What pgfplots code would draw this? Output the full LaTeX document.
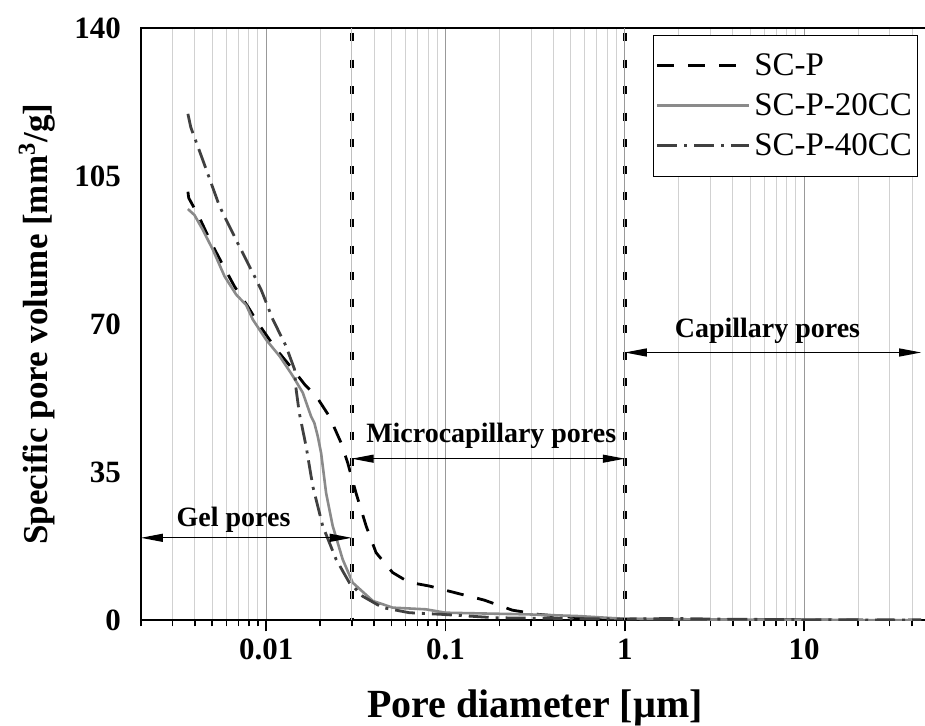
\documentclass[border=0pt]{standalone}
\usepackage{fontspec}
\setmainfont{Liberation Serif}
\usepackage{pgfplots}
\pgfplotsset{compat=1.18}
\usetikzlibrary{arrows.meta}
\definecolor{gsolid}{HTML}{8A8A8A}
\definecolor{gdd}{HTML}{404040}
\begin{document}
\begin{tikzpicture}
\begin{axis}[
  scale only axis, width=394.7pt, height=296.5pt,
  xmode=log, xmin=0.002, xmax=50, ymin=0, ymax=140,
  xtick={0.01,0.1,1,10}, xticklabels={0.01,0.1,1,10},
  minor xtick={0.002,0.003,0.004,0.005,0.006,0.007,0.008,0.009,
               0.02,0.03,0.04,0.05,0.06,0.07,0.08,0.09,
               0.2,0.3,0.4,0.5,0.6,0.7,0.8,0.9,
               2,3,4,5,6,7,8,9,20,30,40,50},
  ytick={0,35,70,105,140},
  xmajorgrids, xminorgrids,
  major x grid style={color=black!40, line width=0.5pt},
  minor x grid style={color=black!18, line width=0.5pt},
  tick align=outside, xtick pos=left,
  major tick length=5.5pt, minor tick length=3pt,
  xtick style={black, line width=0.8pt},
  ytick style={draw=none},
  axis line style={line width=0.9pt},
  tick label style={font=\fontsize{15.5}{18}\selectfont\bfseries},
  /pgf/number format/assume math mode=true,
  yticklabel style={xshift=-1pt},
  xticklabel style={yshift=-0.5pt},
  xlabel={Pore diameter [µm]},
  ylabel={Specific pore volume [mm\textsuperscript{3}/g]},
  xlabel style={font=\fontsize{20}{22}\selectfont\bfseries, at={(axis description cs:0.5,-0.1636)}, anchor=base},
  ylabel style={font=\fontsize{17.5}{22}\selectfont\bfseries, at={(axis description cs:-0.1317,0.5)}, anchor=center},
  legend style={at={(1,1)}, anchor=north east, xshift=-5.5pt, yshift=-3.5pt,
    draw=black, line width=0.5pt, font=\fontsize{16.5}{19}\selectfont,
    inner xsep=1pt, inner ysep=7pt, row sep=3.5pt,
    /tikz/every even column/.append style={column sep=4pt}},
  legend cell align=left,
  legend image code/.code={\draw[#1] (0pt,0pt) -- (46pt,0pt);},
  clip mode=individual,
]
\coordinate (O) at (axis cs:0.002,0);
\addplot[black, line width=1.4pt, dash pattern=on 8.5pt off 7pt] coordinates {
(0.00366,101.3)(0.0037,99.8)(0.0040,97.2)(0.00425,95.1)(0.00494,89.2)(0.00573,84.0)
(0.00666,78.9)(0.0080,73.8)(0.00898,70.3)(0.0114,64.0)(0.0141,59.3)(0.0165,55.6)
(0.019,53.0)(0.0225,48.2)(0.0262,41.9)(0.0285,37.2)(0.0317,30.1)(0.0361,22.3)
(0.041,16.0)(0.0507,11.3)(0.0625,9.0)(0.0813,8.1)(0.109,6.7)(0.164,4.8)(0.236,2.4)
(0.33,1.4)(0.556,0.6)(1,0.3)(2,0.2)(5,0.15)(10,0.1)(45,0.05)};
\addlegendentry{SC-P}
\addplot[gsolid, line width=1.3pt] coordinates {
(0.00366,97.2)(0.00398,95.8)(0.00443,92.3)(0.00504,87.6)(0.00586,81.3)(0.0068,77.0)
(0.00774,74.5)(0.00842,71.1)(0.0100,66.3)(0.0119,62.4)(0.0141,57.7)(0.0160,53.8)
(0.0178,48.2)(0.01858,46.6)(0.0194,43.5)(0.02024,39.6)(0.02159,30.1)(0.0235,22.3)
(0.02671,14.4)(0.03037,8.9)(0.0393,4.6)(0.0507,3.0)(0.0778,2.6)(0.1,1.8)(0.29,1.4)
(0.556,1.0)(1,0.35)(3,0.2)(10,0.1)(45,0.02)};
\addlegendentry{SC-P-20CC}
\addplot[gdd, line width=1.4pt, dash pattern=on 10pt off 3.5pt on 1.5pt off 3.5pt] coordinates {
(0.00366,119.7)(0.0038,116.5)(0.00443,108.8)(0.0055,97.8)(0.0068,89.9)(0.0088,80.5)
(0.00938,78.1)(0.0109,71.1)(0.0129,64.8)(0.0144,59.3)(0.0147,54.5)(0.0153,49.0)
(0.0167,41.1)(0.0182,31.7)(0.02066,22.3)(0.02455,14.4)(0.0291,8.9)(0.0345,5.7)
(0.0446,3.0)(0.0628,1.8)(0.0964,1.4)(0.19,0.6)(1,0.3)(2,0.45)(3,0.3)(10,0.15)(45,0.05)};
\addlegendentry{SC-P-40CC}
% pore class boundaries
\draw[black, line width=2pt, dash pattern=on 4pt off 9.3pt, dash phase=10.8pt]
  (axis cs:0.03,140) -- (axis cs:0.03,0);
\draw[black!25, line width=0.4pt] (axis cs:0.03,140) -- (axis cs:0.03,0);
\draw[black, line width=2pt, dash pattern=on 4pt off 9.3pt, dash phase=10.8pt]
  (axis cs:1,140) -- (axis cs:1,0);
\draw[black!40, line width=0.4pt] (axis cs:1,140) -- (axis cs:1,0);
% arrows
\draw[{Triangle[length=11pt,width=4pt]}-{Triangle[length=11pt,width=4pt]}, line width=0.6pt]
  (axis cs:0.002,19.5) -- (axis cs:0.03,19.5);
\draw[{Triangle[length=11pt,width=4pt]}-{Triangle[length=11pt,width=4pt]}, line width=0.6pt]
  (axis cs:0.03,38.2) -- (axis cs:1,38.2);
\draw[{Triangle[length=11pt,width=4pt]}-{Triangle[length=11pt,width=4pt]}, line width=0.6pt]
  (axis cs:1,63.3) -- (axis cs:45,63.3);
\node[anchor=base, font=\fontsize{14}{16}\selectfont\bfseries] at (axis cs:0.00658,22.1) {Gel pores};
\node[anchor=base, font=\fontsize{14}{16}\selectfont\bfseries] at (axis cs:0.18,42.0) {Microcapillary pores};
\node[anchor=base, font=\fontsize{14}{16}\selectfont\bfseries] at (axis cs:6.25,66.8) {Capillary pores};
\end{axis}
\pgfresetboundingbox
\path[use as bounding box] ([shift={(-70.5pt,-52.5pt)}]O) rectangle ([shift={(392.5pt,310.5pt)}]O);
\end{tikzpicture}
\end{document}
